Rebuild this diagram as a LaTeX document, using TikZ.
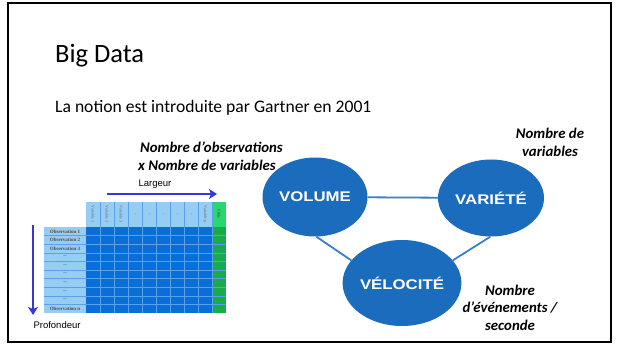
\documentclass[tikz,border=0pt]{standalone}
\usepackage{fontspec}
\setmainfont{Carlito}
\newfontfamily\arialfont{Liberation Sans}
\newfontfamily\vfont{Liberation Sans}[FakeStretch=1.2]
\newfontfamily\timesfont{Liberation Serif}
\usetikzlibrary{shapes.geometric,arrows.meta}

\definecolor{vblue}{RGB}{28,108,190}
\definecolor{lienbleu}{RGB}{60,125,200}
\definecolor{flechebleu}{RGB}{55,55,215}
\definecolor{cellbleu}{RGB}{10,110,215}
\definecolor{clairbleu}{RGB}{150,205,245}
\definecolor{grillebleu}{RGB}{90,160,235}
\definecolor{vertclair}{RGB}{40,215,110}
\definecolor{vertfonce}{RGB}{25,170,75}

\tikzset{
  v/.style={ellipse, fill=vblue, inner sep=0pt, text=white,
    font=\vfont\bfseries\fontsize{14}{16}\selectfont},
  lien/.style={draw=lienbleu, line width=1.8pt},
  fleche/.style={draw=flechebleu, line width=2.6pt, -{Stealth[length=8pt,width=10pt,inset=2pt]}},
  remarque/.style={align=center, font=\bfseries\itshape\fontsize{14.8}{18}\selectfont},
  petit/.style={font=\arialfont\fontsize{9.5}{11}\selectfont},
  obs/.style={font=\timesfont\bfseries\fontsize{5}{6}\selectfont, text=black!70, inner sep=0pt},
  var/.style={font=\timesfont\fontsize{4}{5}\selectfont, text=black!60, rotate=-90, inner sep=0pt}
}

\begin{document}
\begin{tikzpicture}[x=1pt,y=-1pt]
\useasboundingbox (0,0) rectangle (618,347);
\draw[line width=2pt] (8,3) rectangle (611,342);

\node[anchor=base west, inner sep=0pt, font=\fontsize{26.5}{30}\selectfont] (titre) at (55,63) {Big Data};
\node[anchor=base west, inner sep=0pt, font=\fontsize{17.6}{20}\selectfont] (notion) at (55,113) {La notion est introduite par Gartner en 2001};

% les trois V
\node[v, minimum width=105pt, minimum height=79pt] (volume) at (315,197) {VOLUME};
\node[v, minimum width=106pt, minimum height=77pt] (variete) at (491,198) {VARIÉTÉ};
\node[v, minimum width=109pt, minimum height=86pt] (velocite) at (402,283) {VÉLOCITÉ};

\path[lien] (volume) -- (variete);
\path[lien] (volume.-88) -- (velocite.156);
\path[lien] (variete.-91) -- (velocite.24);

\node[remarque, align=left, anchor=west, inner sep=0pt] (obsvar) at (138,156) {\hspace*{2pt}Nombre d’observations\\x Nombre de variables};
\node[remarque] (nbvar) at (550,142.5) {Nombre de\\variables};
\node[remarque, font=\bfseries\itshape\fontsize{14.8}{17.5}\selectfont] (nbevt) at (510,307.5) {Nombre\\d’événements /\\seconde};

% le tableau
\fill[clairbleu] (86,202) rectangle (212,227);
\fill[vertclair] (212,202) rectangle (226,227);
\fill[clairbleu] (44,227) rectangle (86,313);
\fill[cellbleu] (86,227) rectangle (212,313);
\fill[vertfonce] (212,227) rectangle (226,313);
\foreach \i in {1,...,9}
  \draw[grillebleu, line width=0.5pt] (44,227+\i*8.6) -- (226,227+\i*8.6);
\foreach \j in {1,...,9}
  \draw[grillebleu, line width=0.5pt] (86+\j*14,202) -- (86+\j*14,313);

\foreach \j/\t in {1/Variable 1,2/Variable 2,3/Variable 3,4/-,5/-,6/-,7/-,8/-,9/Variable p}
  \node[var] (var\j) at (79+\j*14,214) {\t};
\node[var, text=black!80] (cible) at (219,214) {Cible};

\foreach \i/\t in {1/Observation 1,2/Observation 2,3/Observation 3,4/--,5/--,6/--,7/--,8/--,9/--,10/Observation n}
  \node[obs] (obs\i) at (65,222.7+\i*8.6) {\t};

\coordinate (larg-a) at (107,194);
\coordinate (larg-b) at (217,194);
\path[fleche] (larg-a) -- (larg-b);
\node[petit] (largeur) at (155,184) {Largeur};

\coordinate (prof-a) at (33,225);
\coordinate (prof-b) at (33,315);
\path[fleche] (prof-a) -- (prof-b);
\node[petit, anchor=west] (profondeur) at (30,325) {Profondeur};
\end{tikzpicture}
\end{document}
